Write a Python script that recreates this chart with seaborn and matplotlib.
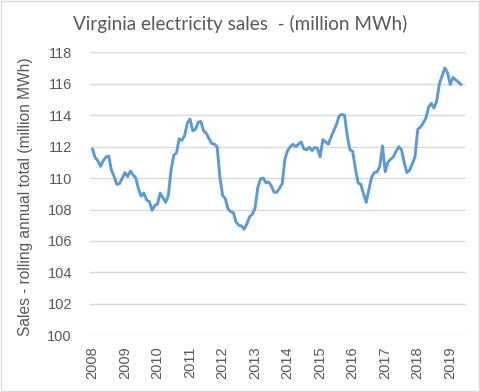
import numpy as np
import pandas as pd
import matplotlib
matplotlib.use("Agg")
import matplotlib.pyplot as plt
from matplotlib.patches import Rectangle
import seaborn as sns

# Rolling annual total of Virginia electricity sales, monthly from Jan 2008
sales = [
    111.85, 111.3, 111.1, 110.75, 111.1, 111.35, 111.4, 110.5, 110.1, 109.6,
    109.65, 110.0, 110.35, 110.1, 110.45, 110.2, 110.0, 109.3, 108.85, 109.05,
    108.6, 108.5, 107.95, 108.25, 108.35, 109.05, 108.75, 108.45, 108.9, 110.5,
    111.45, 111.6, 112.5, 112.4, 112.7, 113.5, 113.75, 113.0, 113.1, 113.55,
    113.6, 113.0, 112.85, 112.5, 112.2, 112.15, 112.0, 110.1, 108.9, 108.7,
    108.05, 107.85, 107.8, 107.2, 107.0, 106.95, 106.75, 107.1, 107.55, 107.7,
    108.1, 109.4, 109.95, 110.0, 109.7, 109.75, 109.5, 109.1, 109.1, 109.35,
    109.65, 111.2, 111.75, 112.0, 112.15, 112.0, 112.15, 112.3, 111.85, 111.8,
    111.95, 111.75, 111.95, 111.9, 111.35, 112.45, 112.3, 112.15, 112.6, 113.0,
    113.4, 113.95, 114.05, 114.0, 112.7, 111.8, 111.7, 110.6, 109.7, 109.6,
    109.0, 108.45, 109.3, 110.05, 110.35, 110.4, 110.75, 112.05, 110.4, 111.0,
    111.2, 111.35, 111.7, 112.0, 111.8, 111.0, 110.35, 110.5, 110.9, 111.35,
    113.1, 113.25, 113.5, 113.8, 114.5, 114.75, 114.45, 114.9, 116.0, 116.5,
    117.0, 116.7, 115.95, 116.4, 116.25, 116.1, 115.95,
]
years = [str(y) for y in range(2008, 2020)]
yticks = list(range(100, 119, 2))

df = pd.DataFrame({"month": range(len(sales)), "sales": sales})

sns.set_theme(style="white")
plt.rcParams["font.family"] = ["Liberation Sans", "DejaVu Sans"]
text_color = "#595959"

fig = plt.figure(figsize=(4.8, 3.92), dpi=100)
ax = fig.add_axes([0.1875, 0.1446, 0.7833, 0.722])

sns.lineplot(data=df, x="month", y="sales", ax=ax, color="#5B9BD5", linewidth=2.1)

ax.set_ylim(100, 118)
ax.set_yticks(yticks)
ax.set_xlim(-0.9, 137.8)
ax.set_xticks(range(0, 12 * len(years), 12))
ax.set_xticklabels(years, rotation=90)
ax.yaxis.grid(True, color="#d9d9d9", linewidth=1.0)
ax.xaxis.grid(False)
for s in ax.spines.values():
    s.set_visible(False)
ax.tick_params(axis="y", length=0, pad=13, labelsize=10.5, labelcolor=text_color)
ax.tick_params(axis="x", length=0, pad=8, labelsize=10.5, labelcolor=text_color)

ax.set_xlabel("")
ax.set_ylabel("Sales - rolling annual total (million MWh)", fontsize=11.2,
              color=text_color)
ax.yaxis.set_label_coords(-0.152, 0.49)

fig.text(0.5, 0.94, "Virginia electricity sales  - (million MWh)", ha="center",
         va="center", fontsize=13.6, color=text_color, family=["Lato", "DejaVu Sans"])

fig.patches.append(Rectangle((0.002, 0.002), 0.996, 0.996, transform=fig.transFigure,
                             fill=False, edgecolor="#d9d9d9", linewidth=1.0))

fig.savefig("out.png", dpi=100)
